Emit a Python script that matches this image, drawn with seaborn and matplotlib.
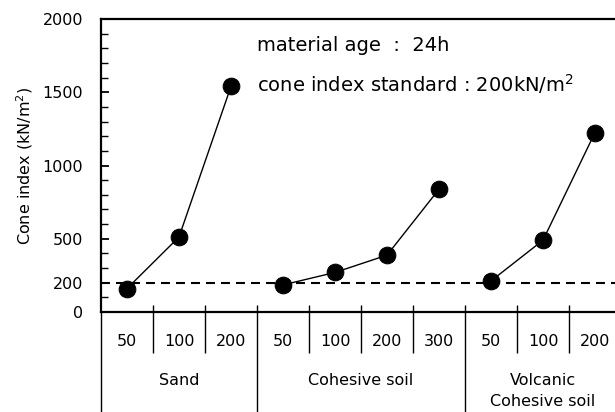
import matplotlib
matplotlib.use("Agg")
import matplotlib.pyplot as plt
import pandas as pd
import seaborn as sns

# categories and readings (cone index, kN/m2)
groups = ["Sand", "Cohesive soil", "Volcanic\nCohesive soil"]
sand_labels = ["50", "100", "200"]
cohesive_labels = ["50", "100", "200", "300"]
volcanic_labels = ["50", "100", "200"]
sand_values = [160, 512, 1540]
cohesive_values = [185, 270, 388, 838]
volcanic_values = [212, 490, 1225]
standard = 200
ytick_labels = [0, 200, 500, 1000, 1500, 2000]

sns.set_theme(style="ticks")
plt.rcParams["font.family"] = ["DejaVu Sans"]
plt.rcParams["text.color"] = "black"
plt.rcParams["axes.labelcolor"] = "black"
plt.rcParams["xtick.color"] = "black"
plt.rcParams["ytick.color"] = "black"

labels_by_group = [sand_labels, cohesive_labels, volcanic_labels]
values_by_group = [sand_values, cohesive_values, volcanic_values]

rows = []
pos = 0
for g, labs, vals in zip(groups, labels_by_group, values_by_group):
    for lab, v in zip(labs, vals):
        rows.append({"group": g, "label": lab, "pos": pos, "value": v})
        pos += 1
df = pd.DataFrame(rows)
n = len(df)

fig = plt.figure(figsize=(6.15, 4.12), dpi=100)
ax = fig.add_axes([101 / 615, 100 / 412, 520 / 615, 293 / 412])

sns.lineplot(data=df, x="pos", y="value", units="group", estimator=None,
             color="black", marker="o", markersize=12, markeredgecolor="black",
             linewidth=1.0, legend=False, ax=ax)
ax.axhline(standard, color="black", lw=1.5, dashes=(4.3, 2.9), zorder=1)

ax.set_xlim(-0.5, n - 0.5)
ax.set_ylim(0, 2000)

# y axis
ax.set_yticks(ytick_labels)
ax.set_yticks(range(0, 2001, 100), minor=True)
ax.tick_params(axis="y", which="major", direction="in", length=6, width=1.3,
               labelsize=11.5, pad=13)
ax.tick_params(axis="y", which="minor", direction="in", length=5, width=1.0)
ax.set_ylabel("Cone index (kN/m$^2$)", fontsize=11.5)
ax.yaxis.set_label_coords(-0.127, 0.5)

# x axis: cell boundaries as ticks, labels drawn as text
bounds = [i + 0.5 for i in range(n - 1)]
ax.set_xticks(bounds)
ax.set_xticklabels([])
ax.tick_params(axis="x", direction="in", length=5, width=1.0)
ax.set_xlabel("")

for sp in ["left", "top", "bottom", "right"]:
    ax.spines[sp].set_linewidth(1.6)
    ax.spines[sp].set_color("black")

tr = ax.get_xaxis_transform()
group_edges = []
start = 0
for labs in labels_by_group:
    start += len(labs)
    group_edges.append(start - 0.5)
inner = [b for b in bounds if b not in group_edges]
ax.vlines(inner, -0.14, 0, transform=tr, colors="black", lw=1.0, clip_on=False)
ax.vlines([-0.5] + group_edges[:-1], -0.35, 0, transform=tr, colors="black",
          lw=1.0, clip_on=False)

for _, r in df.iterrows():
    ax.text(r["pos"], -0.101, r["label"], transform=tr, ha="center",
            va="center", fontsize=11.5)

start = 0
for g, labs in zip(groups, labels_by_group):
    center = start + (len(labs) - 1) / 2
    ax.text(center, -0.208, g, transform=tr, ha="center", va="top",
            fontsize=11.5, linespacing=1.5)
    start += len(labs)

ax.text(0.300, 0.911, "material age  :  24h", transform=ax.transAxes,
        ha="left", va="center", fontsize=14)
ax.text(0.300, 0.778, "cone index standard : 200kN/m$^2$", transform=ax.transAxes,
        ha="left", va="center", fontsize=14)

fig.savefig("out.png", dpi=100)
plt.close(fig)
